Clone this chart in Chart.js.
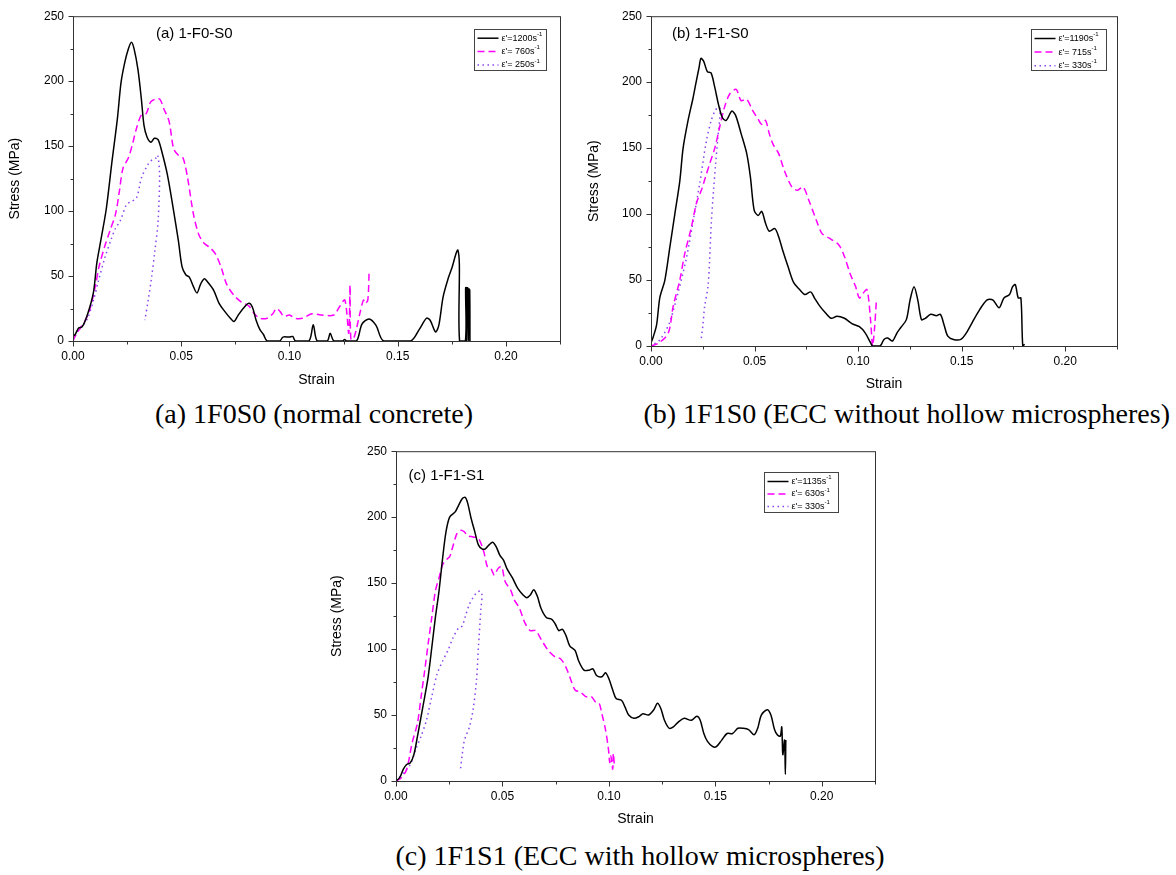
<!DOCTYPE html>
<html>
<head>
<meta charset="utf-8">
<script src="https://cdn.jsdelivr.net/npm/chart.js@4.4.1/dist/chart.umd.min.js"></script>
<style>
body { margin: 0; background: #fff; width: 1176px; height: 875px; position: relative; overflow: hidden; }
.box { position: absolute; }
.cap { position: absolute; font-family: 'Liberation Serif', 'Times New Roman', serif; font-size: 28px; line-height: 32px; color: #000; white-space: nowrap; }
</style>
</head>
<body>
<div class="box" style="left:0;top:0;width:580px;height:395px"><canvas id="chartA"></canvas></div>
<div class="box" style="left:580px;top:0;width:596px;height:395px"><canvas id="chartB"></canvas></div>
<div class="box" style="left:320px;top:435px;width:580px;height:400px"><canvas id="chartC"></canvas></div>
<div class="cap" style="left:155px;top:398px">(a) 1F0S0 (normal concrete)</div>
<div class="cap" style="right:6px;top:398px">(b) 1F1S0 (ECC without hollow microspheres)</div>
<div class="cap" style="left:640px;top:840px;transform:translateX(-50%)">(c) 1F1S1 (ECC with hollow microspheres)</div>
<script>
// ---- data: [strain, stress MPa] ----
const a1200 = [[0,3.5],[0.001,5],[0.0026,10],[0.0043,11],[0.0068,21],[0.0094,37],[0.011,60],[0.0128,77],[0.0154,102],[0.018,138],[0.0205,171],[0.0222,199],[0.024,215],[0.0256,225],[0.027,230],[0.0282,225],[0.030,209],[0.0316,186],[0.0328,166],[0.0342,157],[0.036,153],[0.0376,156],[0.0393,155],[0.041,146],[0.0436,128],[0.0462,103],[0.0487,77],[0.0504,57],[0.0521,51],[0.0538,49],[0.0556,42],[0.0573,37],[0.059,44],[0.0607,48],[0.0624,45],[0.065,39],[0.0675,29],[0.070,23],[0.0727,17.5],[0.0744,15],[0.076,19],[0.0786,25],[0.0812,29],[0.0829,26],[0.0846,16],[0.0863,9],[0.088,5],[0.0897,0],[0.0955,0],[0.097,3],[0.1,3],[0.1015,3.5],[0.1028,0],[0.109,0],[0.111,12.5],[0.1128,0],[0.1175,0],[0.1188,6],[0.1205,0],[0.1245,0],[0.1255,1.2],[0.1265,0],[0.131,0],[0.1335,13],[0.1368,17],[0.14,12],[0.1435,0],[0.156,0],[0.16,9],[0.1633,17.5],[0.165,16],[0.1675,7],[0.169,12],[0.171,34],[0.1735,49],[0.1752,57],[0.1769,67],[0.1778,70],[0.1785,59],[0.1786,0],[0.1813,0],[0.1814,41],[0.1818,41],[0.1819,0],[0.1822,41],[0.1826,40],[0.1827,0],[0.183,40],[0.1833,39],[0.1834,0]];
const a760 = [[0,0],[0.0017,6],[0.0051,14],[0.0077,24],[0.0103,42],[0.012,57],[0.0145,72],[0.0171,85],[0.0197,98],[0.0214,115],[0.0231,133],[0.0256,141],[0.0274,151],[0.0294,164],[0.0316,174],[0.0338,175],[0.0359,184],[0.0385,186.5],[0.0402,186],[0.0419,179],[0.0444,169],[0.0465,148],[0.0487,143],[0.0508,141],[0.053,125],[0.0556,98],[0.0581,82],[0.0607,75],[0.0632,72],[0.0658,67],[0.0684,57],[0.0709,44],[0.0744,35],[0.0778,30],[0.0812,27],[0.0838,21],[0.0863,17.5],[0.0897,17.5],[0.0923,21],[0.094,25],[0.0957,22.6],[0.0974,19],[0.1,20],[0.1026,17.5],[0.106,17.5],[0.1103,21],[0.1145,20],[0.1205,20],[0.123,26],[0.1256,31.5],[0.1274,6],[0.128,43],[0.1284,1],[0.13,3.5],[0.1325,21],[0.1342,31.5],[0.135,29],[0.1362,31.5],[0.1368,53]];
const a250 = [[0,0],[0.0026,8.6],[0.0063,16],[0.0094,31],[0.0117,46],[0.0147,64],[0.0178,79],[0.0197,87],[0.0217,92],[0.0247,105],[0.0265,107],[0.0293,110],[0.0317,126],[0.0347,136],[0.0369,140],[0.0386,141],[0.0392,143],[0.04,128],[0.0393,92],[0.0378,69],[0.0363,49],[0.0347,31],[0.0332,16]];

const b1190 = [[0,2.5],[0.0011,7],[0.0027,16],[0.0043,37],[0.0067,50],[0.0091,75],[0.0115,100],[0.0139,125],[0.0155,150],[0.0179,171],[0.0203,188],[0.0219,201],[0.0232,211],[0.0241,218],[0.0254,216],[0.0272,208],[0.029,207],[0.0308,196],[0.0326,183],[0.0345,173],[0.0363,171],[0.039,178],[0.0408,175],[0.0435,161],[0.0462,146],[0.048,128],[0.0498,103],[0.0517,99],[0.0535,102],[0.0553,93],[0.0571,87],[0.0598,89],[0.0616,83],[0.0635,73],[0.0662,60],[0.0689,48],[0.0716,43],[0.0743,39],[0.0771,41],[0.0789,36.5],[0.0816,30],[0.0843,25],[0.087,21],[0.0898,22.6],[0.0934,21],[0.097,17],[0.1006,14.6],[0.1034,10],[0.106,2.5],[0.107,0],[0.1106,0],[0.1125,5],[0.1143,6],[0.1166,3.8],[0.1188,10],[0.1206,14],[0.1233,20],[0.1251,35],[0.127,45],[0.1288,35],[0.1306,20],[0.1324,21],[0.1351,24],[0.1378,23],[0.1397,24],[0.1415,16],[0.1433,7.5],[0.146,5],[0.1496,5],[0.1523,10],[0.155,17.6],[0.1587,27.6],[0.1623,35],[0.165,35],[0.1681,29],[0.1704,36.4],[0.1731,39],[0.1746,45],[0.1759,46.5],[0.1773,36.4],[0.1786,36.4],[0.1795,0],[0.1804,1.3]];
const b715 = [[0,0],[0.0035,2],[0.0083,9.6],[0.0107,30],[0.0139,50],[0.0163,70],[0.0195,90],[0.0219,108],[0.0243,118],[0.0263,128],[0.0283,138],[0.0308,150],[0.0331,165.6],[0.0355,181],[0.038,191],[0.0411,194.5],[0.0435,186],[0.0462,187],[0.0489,179],[0.0517,172],[0.0535,168],[0.0553,171],[0.0571,161],[0.0589,153],[0.0616,146],[0.0644,133],[0.068,120.6],[0.0707,118],[0.0734,120.6],[0.0762,110.5],[0.0798,95.5],[0.0825,85.4],[0.0861,81.7],[0.0907,76.6],[0.0934,67.8],[0.0961,55],[0.0988,45],[0.1006,36.4],[0.1024,40],[0.1043,42.7],[0.106,20],[0.107,0],[0.1079,12.6],[0.1088,34]];
const b330 = [[0,5],[0.002,2],[0.005,6],[0.009,18],[0.013,40],[0.017,66],[0.0205,96],[0.0235,123],[0.0267,155],[0.0291,171],[0.0312,179],[0.0331,181],[0.0333,175],[0.0323,158],[0.0312,138],[0.0302,118],[0.0291,93],[0.0283,65],[0.0275,45],[0.0259,30],[0.025,15],[0.0243,6]];

const c1135 = [[0,0],[0.0017,2.5],[0.0034,8.75],[0.005,12.5],[0.0067,13.75],[0.0084,20],[0.0101,34],[0.0118,49],[0.0135,64],[0.0151,79],[0.0168,101],[0.0185,124],[0.0202,144],[0.0219,169],[0.0235,189],[0.0252,200],[0.0278,204],[0.0294,209],[0.0311,214],[0.0325,215],[0.0336,211],[0.0353,199],[0.037,189],[0.0387,179],[0.0404,176],[0.042,176],[0.0437,179],[0.0454,181],[0.0471,177.5],[0.0488,171],[0.0505,167.5],[0.0521,161],[0.0547,154],[0.0572,146],[0.0597,141],[0.0614,139],[0.0631,141],[0.0647,145],[0.0664,140],[0.0681,131],[0.0706,124],[0.0732,122.5],[0.0748,119],[0.0765,114],[0.0782,115],[0.0799,110],[0.0816,102.5],[0.0841,99],[0.0858,91],[0.0883,84],[0.0908,84],[0.0925,85],[0.0942,80],[0.0967,79],[0.0984,82],[0.1,77.5],[0.1018,69],[0.1034,62.5],[0.106,61],[0.1076,56],[0.1093,50],[0.1118,47.5],[0.1143,49],[0.116,51],[0.1186,50],[0.1211,54],[0.1228,59],[0.1244,55],[0.1261,46],[0.1283,40],[0.1303,41],[0.1328,45],[0.1354,47.5],[0.1387,46],[0.1413,49],[0.1429,46],[0.1446,36],[0.1463,30],[0.1488,26],[0.1505,26],[0.153,31],[0.1555,36],[0.1581,36],[0.1606,40],[0.1631,40],[0.1656,39],[0.1682,35],[0.1699,40],[0.1716,50],[0.1744,54],[0.1761,50],[0.1778,39],[0.1791,35],[0.1805,34],[0.1812,41],[0.1817,20],[0.1825,31],[0.1829,5],[0.1831,31]];
const c630 = [[0,0],[0.0025,2.5],[0.005,8.75],[0.0076,29],[0.0101,44],[0.0118,64],[0.0135,84],[0.0151,104],[0.0168,124],[0.0185,144],[0.0202,154],[0.0219,164],[0.0235,167.5],[0.0252,170],[0.0264,176],[0.0286,187.5],[0.0303,190],[0.032,189],[0.0336,186],[0.0362,185],[0.0387,184],[0.0412,174],[0.0429,162.5],[0.0446,161],[0.0462,156],[0.0479,161],[0.0496,162.5],[0.0513,151],[0.0538,145],[0.0555,137.5],[0.058,131],[0.0605,120],[0.0631,114],[0.0656,114],[0.0681,107.5],[0.0715,99],[0.0748,94],[0.0774,92.5],[0.0799,86],[0.0816,79],[0.0841,69],[0.0866,67.5],[0.0891,64],[0.0917,64],[0.0937,60],[0.0954,59],[0.0967,51],[0.0984,39],[0.0998,24],[0.1004,14],[0.1009,19],[0.1018,9],[0.1021,21],[0.1026,11]];
const c330 = [[0,0],[0.0034,6],[0.0067,12.5],[0.0093,24],[0.0118,34],[0.0143,46],[0.0168,64],[0.0193,81],[0.0219,91],[0.0244,99],[0.0269,109],[0.0294,116],[0.0311,117.5],[0.0328,126],[0.0345,134],[0.0362,139],[0.0378,142.5],[0.0395,144],[0.0404,141],[0.0399,131],[0.0387,101],[0.0378,76],[0.0362,54],[0.0345,41],[0.0328,34],[0.032,30],[0.0311,20],[0.0303,9]];

const ratesA = ["ε'=1200s", "ε'= 760s", "ε'= 250s"];
const ratesB = ["ε'=1190s", "ε'= 715s", "ε'= 330s"];
const ratesC = ["ε'=1135s", "ε'= 630s", "ε'= 330s"];

const strainTicks = [0, 0.05, 0.10, 0.15, 0.20];
const stressTicks = [0, 50, 100, 150, 200, 250];
const strainMax = 0.225;
const stressMax = 250;

const SANS = '"Liberation Sans", Arial, sans-serif';
const lineStyles = [
  { borderColor: '#000000', borderWidth: 1.5, borderDash: [] },
  { borderColor: '#ff00ff', borderWidth: 1.5, borderDash: [7, 4] },
  { borderColor: '#8844ee', borderWidth: 1.5, borderDash: [1.5, 3.5] }
];

// frame, minor ticks, panel label and the boxed legend
const framePlugin = {
  id: 'frame',
  afterDatasetsDraw(chart, args, o) {
    const { ctx, chartArea: a } = chart;
    const xs = chart.scales.x, ys = chart.scales.y;
    ctx.save();
    ctx.strokeStyle = '#333';
    ctx.lineWidth = 1;
    ctx.setLineDash([]);
    ctx.strokeRect(a.left + 0.5, a.top + 0.5, a.right - a.left, a.bottom - a.top);
    ctx.beginPath();
    for (let i = 0; i <= 9; i++) {
      const px = Math.round(xs.getPixelForValue(i * 0.025)) + 0.5;
      const len = i % 2 ? 3 : 5;
      ctx.moveTo(px, a.bottom + 0.5);
      ctx.lineTo(px, a.bottom + 0.5 + len);
    }
    for (let i = 0; i <= 10; i++) {
      const py = Math.round(ys.getPixelForValue(i * 25)) + 0.5;
      const len = i % 2 ? 3 : 5;
      ctx.moveTo(a.left + 0.5, py);
      ctx.lineTo(a.left + 0.5 - len, py);
    }
    ctx.stroke();

    ctx.fillStyle = '#000';
    ctx.textBaseline = 'middle';
    ctx.font = '15px ' + SANS;
    ctx.fillText(o.title, a.left + o.titleDx, a.top + o.titleDy);

    const L = o.legend;
    const bx = Math.round(a.right - L.dr - L.w) + 0.5, by = Math.round(a.top + L.dt) + 0.5;
    ctx.strokeStyle = '#444';
    ctx.strokeRect(bx, by, L.w, L.h);
    chart.data.datasets.forEach((ds, i) => {
      const ry = by + L.row0 + i * L.gap;
      ctx.save();
      ctx.strokeStyle = ds.borderColor;
      ctx.lineWidth = ds.borderWidth;
      ctx.setLineDash(ds.borderDash);
      ctx.beginPath();
      ctx.moveTo(bx + 3, ry);
      ctx.lineTo(bx + 24, ry);
      ctx.stroke();
      ctx.restore();
      ctx.font = '9px ' + SANS;
      ctx.fillText(ds.label, bx + 27, ry);
      const w = ctx.measureText(ds.label).width;
      ctx.font = '6px ' + SANS;
      ctx.fillText('-1', bx + 27 + w, ry - 4);
    });
    ctx.restore();
  }
};

function makeChart(id, series, rates, opt) {
  const box = document.getElementById(id).parentNode;
  const W = box.clientWidth, H = box.clientHeight;
  return new Chart(document.getElementById(id), {
    type: 'line',
    data: {
      datasets: series.map((s, i) => Object.assign({
        label: rates[i],
        data: s.map(p => ({ x: p[0], y: p[1] })),
        pointRadius: 0,
        tension: 0.3,
        fill: false
      }, lineStyles[i]))
    },
    options: {
      responsive: true,
      maintainAspectRatio: false,
      animation: false,
      layout: { padding: { left: 0, top: opt.area.top, right: W - opt.area.right, bottom: 0 } },
      plugins: {
        legend: { display: false },
        tooltip: { enabled: false },
        frame: { title: opt.title, titleDx: opt.titleDx, titleDy: opt.titleDy, legend: opt.legend }
      },
      scales: {
        x: {
          type: 'linear', min: 0, max: strainMax,
          grid: { display: false, drawTicks: false },
          border: { display: false },
          afterFit: s => { s.height = H - opt.area.bottom; },
          afterBuildTicks: s => { s.ticks = strainTicks.map(v => ({ value: v })); },
          ticks: { padding: 8, color: '#000', font: { family: SANS, size: 12 }, callback: v => v.toFixed(2) },
          title: { display: true, text: 'Strain', color: '#000', font: { family: SANS, size: 14 }, padding: { top: 0, bottom: opt.xTitlePad } }
        },
        y: {
          min: 0, max: stressMax,
          grid: { display: false, drawTicks: false },
          border: { display: false },
          afterFit: s => { s.width = opt.area.left; },
          afterBuildTicks: s => { s.ticks = stressTicks.map(v => ({ value: v })); },
          ticks: { padding: 9, color: '#000', font: { family: SANS, size: 12 } },
          title: { display: true, text: 'Stress (MPa)', color: '#000', font: { family: SANS, size: 14 }, padding: { top: opt.yTitlePad, bottom: 0 } }
        }
      }
    },
    plugins: [framePlugin]
  });
}

makeChart('chartA', [a1200, a760, a250], ratesA, {
  area: { left: 73, top: 12, right: 560, bottom: 341 },
  title: '(a) 1-F0-S0', titleDx: 83, titleDy: 18,
  legend: { dr: 14, dt: 13, w: 72, h: 41, row0: 8.7, gap: 13.4 },
  xTitlePad: 6.6, yTitlePad: 7
});
makeChart('chartB', [b1190, b715, b330], ratesB, {
  area: { left: 71, top: 15, right: 537, bottom: 346 },
  title: '(b) 1-F1-S0', titleDx: 21, titleDy: 18,
  legend: { dr: 11, dt: 13, w: 75, h: 41, row0: 9, gap: 13.6 },
  xTitlePad: 2.6, yTitlePad: 6
});
makeChart('chartC', [c1135, c630, c330], ratesC, {
  area: { left: 76, top: 14, right: 555, bottom: 346 },
  title: '(c) 1-F1-S1', titleDx: 12.5, titleDy: 25,
  legend: { dr: 37, dt: 21, w: 74, h: 40, row0: 9, gap: 12.5 },
  xTitlePad: 7.6, yTitlePad: 8.6
});
</script>
</body>
</html>
